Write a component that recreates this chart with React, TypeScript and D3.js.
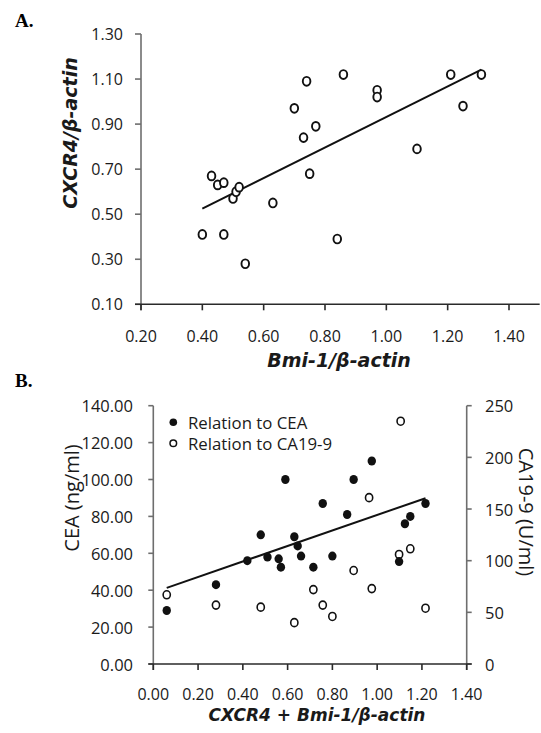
import React from "react";
import * as d3 from "d3";

// ---- Panel A data ----
const aBmi1 = [0.40, 0.43, 0.45, 0.47, 0.47, 0.50, 0.51, 0.52, 0.54, 0.63, 0.70, 0.73, 0.74, 0.75, 0.77, 0.84, 0.86, 0.97, 0.97, 1.10, 1.21, 1.25, 1.31];
const aCxcr4 = [0.41, 0.67, 0.63, 0.64, 0.41, 0.57, 0.60, 0.62, 0.28, 0.55, 0.97, 0.84, 1.09, 0.68, 0.89, 0.39, 1.12, 1.05, 1.02, 0.79, 1.12, 0.98, 1.12];
const aXTicks = [0.2, 0.4, 0.6, 0.8, 1.0, 1.2, 1.4];
const aYTicks = [0.1, 0.3, 0.5, 0.7, 0.9, 1.1, 1.3];

// ---- Panel B data ----
const ceaX = [0.06, 0.28, 0.42, 0.48, 0.51, 0.56, 0.57, 0.59, 0.63, 0.645, 0.66, 0.715, 0.757, 0.80, 0.866, 0.895, 0.976, 1.098, 1.124, 1.148, 1.216];
const ceaY = [29, 43, 56, 70, 58, 57, 52.5, 100, 69, 64, 58.5, 52.5, 87, 58.5, 81, 100, 110, 55.5, 76, 80, 87];
const ca199X = [0.06, 0.28, 0.48, 0.63, 0.715, 0.757, 0.80, 0.895, 0.964, 0.976, 1.098, 1.105, 1.148, 1.216];
const ca199Y = [67, 57, 55, 40, 72, 57, 46, 90.5, 161, 73, 106, 235, 111.5, 54];
const bXTicks = [0, 0.2, 0.4, 0.6, 0.8, 1.0, 1.2, 1.4];
const bLeftTicks = [0, 20, 40, 60, 80, 100, 120, 140];
const bRightTicks = [0, 50, 100, 150, 200, 250];
const legendLabels = ["Relation to CEA", "Relation to CA19-9"];

function regression(xs: number[], ys: number[]) {
  const mx = d3.mean(xs)!;
  const my = d3.mean(ys)!;
  let sxy = 0, sxx = 0;
  xs.forEach((x, i) => { sxy += (x - mx) * (ys[i] - my); sxx += (x - mx) * (x - mx); });
  const b = sxy / sxx;
  const a = my - b * mx;
  const [x0, x1] = d3.extent(xs) as [number, number];
  return [[x0, a + b * x0], [x1, a + b * x1]];
}

const TICK_FONT = "'Open Sans', 'DejaVu Sans', sans-serif";
const TITLE_FONT = "'DejaVu Sans', 'Open Sans', sans-serif";
const AX_GRAY = "#6e6e6e";
const AX_DARK = "#2a2a2a";

export default function App() {
  // Panel A scales
  const ax = d3.scaleLinear().domain([0.2, 1.4]).range([141, 509]);
  const ay = d3.scaleLinear().domain([0.1, 1.3]).range([304.3, 34]);
  const aLine = regression(aBmi1, aCxcr4);
  const lineGen = d3.line<number[]>();

  // Panel B scales
  const bx = d3.scaleLinear().domain([0, 1.4]).range([153.3, 466.7]);
  const byL = d3.scaleLinear().domain([0, 140]).range([664, 405.7]);
  const byR = d3.scaleLinear().domain([0, 250]).range([664, 405.7]);
  const bLine = regression(ceaX, ceaY);

  const aXEnd = ax(1.5);

  return (
    <svg width={541} height={733} style={{ position: "absolute", left: 0, top: 0, background: "#fff" }}>
      <rect x={0} y={0} width={541} height={733} fill="#fff" />
      {/* ===== Panel A ===== */}
      <text x={15} y={27} fontFamily="'Liberation Serif', 'Times New Roman', serif" fontWeight="bold" fontSize={19}>A.</text>

      {/* y axis */}
      <line x1={ax(0.2)} x2={ax(0.2)} y1={ay(1.3)} y2={ay(0.1) + 6} stroke={AX_GRAY} strokeWidth={1.6} />
      {aYTicks.map((t) => (
        <g key={"ay" + t}>
          <line x1={ax(0.2) - 6} x2={ax(0.2)} y1={ay(t)} y2={ay(t)} stroke={AX_GRAY} strokeWidth={1.6} />
          <text x={123} y={ay(t)} textAnchor="end" dominantBaseline="central" fontFamily={TICK_FONT} fontSize={16} fill="#1a1a1a">{d3.format(".2f")(t)}</text>
        </g>
      ))}
      {/* x axis */}
      <line x1={ax(0.2) - 6} x2={aXEnd} y1={ay(0.1)} y2={ay(0.1)} stroke={AX_DARK} strokeWidth={1.6} />
      {aXTicks.map((t) => (
        <g key={"ax" + t}>
          <line x1={ax(t)} x2={ax(t)} y1={ay(0.1)} y2={ay(0.1) + 6} stroke={AX_DARK} strokeWidth={1.6} />
          <text x={ax(t)} y={ay(0.1) + 32} textAnchor="middle" dominantBaseline="central" fontFamily={TICK_FONT} fontSize={16} fill="#1a1a1a">{d3.format(".2f")(t)}</text>
        </g>
      ))}
      <text x={339} y={367} textAnchor="middle" fontFamily={TITLE_FONT} fontWeight="bold" fontStyle="italic" fontSize={19} fill="#1a1a1a">Bmi-1/β-actin</text>
      <text transform={`translate(77,133) rotate(-90)`} textAnchor="middle" fontFamily={TITLE_FONT} fontWeight="bold" fontStyle="italic" fontSize={19} fill="#1a1a1a">CXCR4/β-actin</text>

      <path d={lineGen(aLine.map((p) => [ax(p[0]), ay(p[1])]))!} stroke="#111" strokeWidth={2} fill="none" />
      {aBmi1.map((x, i) => (
        <ellipse key={"ap" + i} cx={ax(x)} cy={ay(aCxcr4[i])} rx={3.8} ry={4.4} fill="#fff" stroke="#111" strokeWidth={1.9} />
      ))}

      {/* ===== Panel B ===== */}
      <text x={15} y={387} fontFamily="'Liberation Serif', 'Times New Roman', serif" fontWeight="bold" fontSize={19}>B.</text>

      {/* left axis */}
      <line x1={bx(0)} x2={bx(0)} y1={byL(140)} y2={byL(0) + 6} stroke={AX_GRAY} strokeWidth={1.6} />
      {bLeftTicks.map((t) => (
        <g key={"bl" + t}>
          <line x1={bx(0) - 5} x2={bx(0)} y1={byL(t)} y2={byL(t)} stroke={AX_GRAY} strokeWidth={1.6} />
          <text x={133} y={byL(t)} textAnchor="end" dominantBaseline="central" fontFamily={TICK_FONT} fontSize={16.5} fill="#1a1a1a">{d3.format(".2f")(t)}</text>
        </g>
      ))}
      {/* right axis */}
      <line x1={bx(1.4)} x2={bx(1.4)} y1={byR(250)} y2={byR(0) + 6} stroke={AX_GRAY} strokeWidth={1.6} />
      {bRightTicks.map((t) => (
        <g key={"br" + t}>
          <line x1={bx(1.4)} x2={bx(1.4) + 5} y1={byR(t)} y2={byR(t)} stroke={AX_GRAY} strokeWidth={1.6} />
          <text x={485} y={byR(t)} textAnchor="start" dominantBaseline="central" fontFamily={TICK_FONT} fontSize={16.5} fill="#1a1a1a">{d3.format("d")(t)}</text>
        </g>
      ))}
      {/* x axis */}
      <line x1={bx(0) - 5} x2={bx(1.4) + 5} y1={byL(0)} y2={byL(0)} stroke={AX_DARK} strokeWidth={1.6} />
      {bXTicks.map((t) => (
        <g key={"bx" + t}>
          <line x1={bx(t)} x2={bx(t)} y1={byL(0)} y2={byL(0) + 6} stroke={AX_DARK} strokeWidth={1.6} />
          <text x={bx(t)} y={694} textAnchor="middle" dominantBaseline="central" fontFamily={TICK_FONT} fontSize={16} fill="#1a1a1a">{d3.format(".2f")(t)}</text>
        </g>
      ))}
      <text x={317} y={721} textAnchor="middle" fontFamily={TITLE_FONT} fontWeight="bold" fontStyle="italic" fontSize={17} fill="#1a1a1a">CXCR4 + Bmi-1/β-actin</text>
      <text transform={`translate(79,498) rotate(-90)`} textAnchor="middle" fontFamily={TICK_FONT} fontSize={20} fill="#1a1a1a">CEA (ng/ml)</text>
      <text transform={`translate(519,512) rotate(90)`} textAnchor="middle" fontFamily={TICK_FONT} fontSize={20} fill="#1a1a1a">CA19-9 (U/ml)</text>

      {/* legend */}
      <circle cx={173.3} cy={422.3} r={3.8} fill="#111" />
      <text x={188} y={422.3} dominantBaseline="central" fontFamily={TICK_FONT} fontSize={16.8} fill="#1a1a1a">{legendLabels[0]}</text>
      <circle cx={173.3} cy={443.3} r={3.3} fill="#fff" stroke="#111" strokeWidth={1.5} />
      <text x={188} y={443.3} dominantBaseline="central" fontFamily={TICK_FONT} fontSize={16.8} fill="#1a1a1a">{legendLabels[1]}</text>

      <path d={lineGen(bLine.map((p) => [bx(p[0]), byL(p[1])]))!} stroke="#111" strokeWidth={2} fill="none" />
      {ca199X.map((x, i) => (
        <ellipse key={"bo" + i} cx={bx(x)} cy={byR(ca199Y[i])} rx={3.6} ry={4} fill="#fff" stroke="#111" strokeWidth={1.6} />
      ))}
      {ceaX.map((x, i) => (
        <ellipse key={"bf" + i} cx={bx(x)} cy={byL(ceaY[i])} rx={4.2} ry={4.5} fill="#111" />
      ))}
    </svg>
  );
}
